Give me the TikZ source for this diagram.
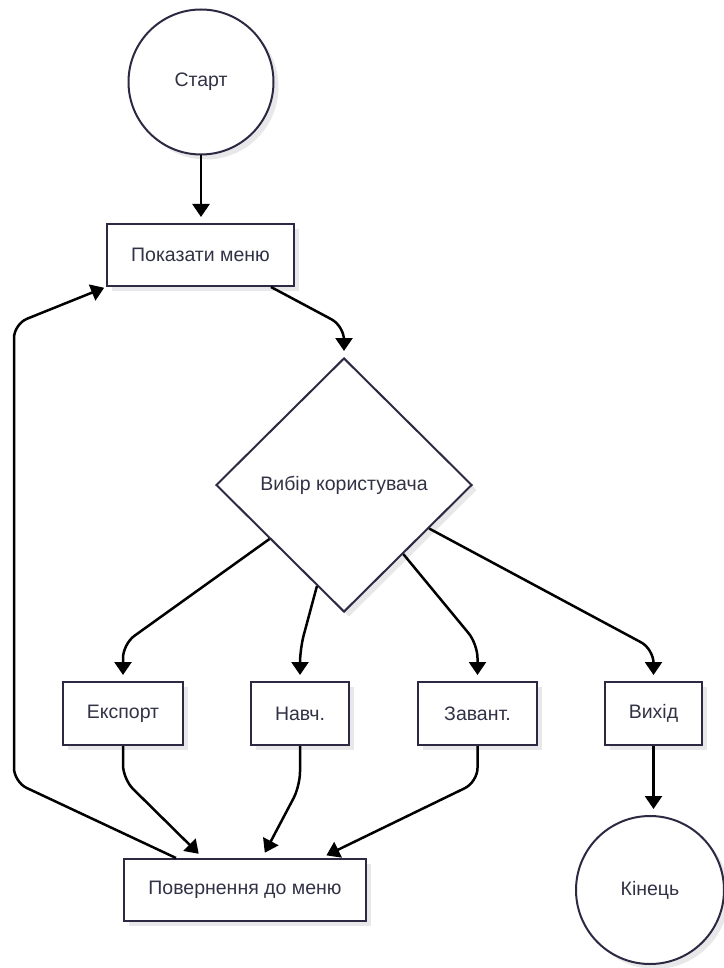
\documentclass[tikz,border=0pt]{standalone}
\usepackage{fontspec}
\setmainfont{Liberation Sans}
\usetikzlibrary{shapes.geometric, arrows.meta, shadows, calc}
\definecolor{edgecol}{RGB}{44,42,66}
\definecolor{txtcol}{RGB}{50,50,70}
\definecolor{shadecol}{RGB}{232,232,235}
\begin{document}
\begin{tikzpicture}[x=1pt,y=-1pt,
  base/.style={draw=edgecol, line width=2pt, fill=white, text=txtcol,
    font=\fontsize{19.5}{23}\selectfont, inner sep=0pt,
    drop shadow={shadow xshift=5pt, shadow yshift=-5pt, fill=shadecol, opacity=1}},
  procbox/.style={base, rectangle, minimum height=62pt},
  termcirc/.style={base, circle},
  decide/.style={base, diamond, minimum width=256pt, minimum height=254pt},
  flow/.style={line width=2.5pt, black, -{Triangle[length=13pt,width=17pt]},
    shorten >=6pt, rounded corners=14pt}
]
\useasboundingbox (0,0) rectangle (723,968);

% nodes
\node[termcirc, minimum size=145pt] (start) at (201,82) {Старт};
\node[procbox, minimum width=187pt] (menu) at (200.5,255) {Показати меню};
\node[decide] (choice) at (344,485) {Вибір користувача};
\node[procbox, minimum width=120pt, minimum height=63pt] (export) at (123,713.5) {Експорт};
\node[procbox, minimum width=98pt, minimum height=63pt] (train) at (300,713.5) {Навч.};
\node[procbox, minimum width=119pt, minimum height=63pt] (load) at (477.5,713.5) {Завант.};
\node[procbox, minimum width=97pt, minimum height=63pt] (quit) at (653.5,713.5) {Вихід};
\node[procbox, minimum width=242pt] (back) at (245,890) {Повернення до меню};
\node[termcirc, minimum size=148pt] (finish) at (650,890) {Кінець};

% bend points of the connectors
\coordinate (menuout) at ($(menu.south east)+(-24,0)$);
\coordinate (bendchoice) at (344,326);
\coordinate (loopa) at (14,782);
\coordinate (loopb) at (14,324);
\coordinate (loopstart) at ($(back.north west)+(53,0)$);

% connectors
\draw[flow] (start.south) -- (start.south |- menu.north);
\draw[flow] (menuout) -- (bendchoice) -- (choice.north);

\draw[flow] ($(choice.south)!0.578!(choice.west)$) -- ($(export.north)+(0,-37)$) -- (export.north);
\draw[flow] ($(choice.south)!0.21!(choice.west)$) -- ($(train.north)+(0,-32)$) -- (train.north);
\draw[flow] ($(choice.south)!0.46!(choice.east)$) -- ($(load.north)+(0,-37)$) -- (load.north);
\draw[flow] ($(choice.south)!0.66!(choice.east)$) -- ($(quit.north)+(0,-32)$) -- (quit.north);

\draw[flow] (export.south) -- ++(0,33) -- ($(back.north west)+(80,0)$);
\draw[flow] (train.south) -- ++(0,40) -- ($(back.north west)+(139,0)$);
\draw[flow] (load.south) -- ++(0,36) -- ($(back.north west)+(198,0)$);

\draw[flow] (quit.south) -- (quit.south |- finish.north);

\draw[flow, shorten >=2pt] (loopstart) -- (loopa) -- (loopb) -- (menu.south west);
\end{tikzpicture}
\end{document}
